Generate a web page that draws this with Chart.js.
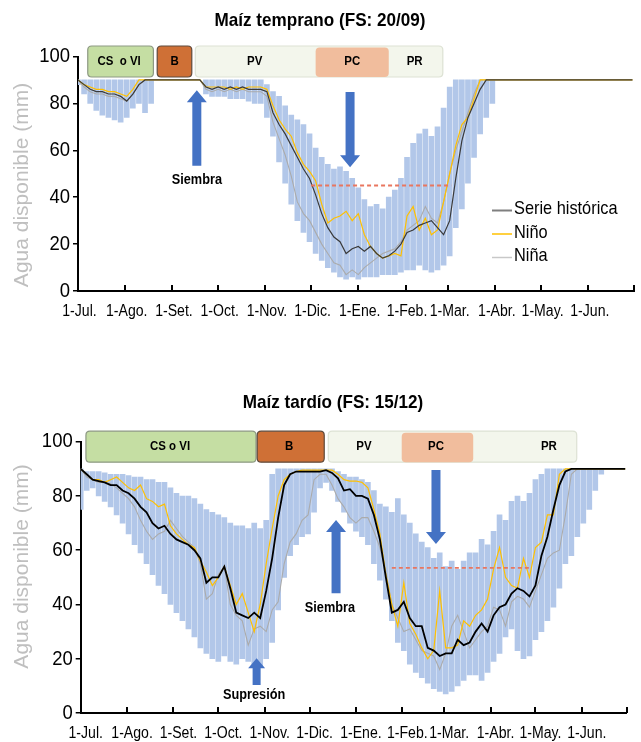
<!DOCTYPE html>
<html><head><meta charset="utf-8">
<script src="https://cdn.jsdelivr.net/npm/chart.js@4.4.1/dist/chart.umd.min.js"></script>
<style>
html,body{margin:0;padding:0;background:#fff;}
#wrap{position:relative;width:641px;height:742px;overflow:hidden;}
.box{position:absolute;left:0;width:641px;height:371px;}
</style></head><body>
<div id="wrap">
<div class="box" style="top:0"><canvas id="c1" width="641" height="371"></canvas></div>
<div class="box" style="top:371px"><canvas id="c2" width="641" height="371"></canvas></div>
</div>
<script>
// ---------- DATA ----------
const days = [0,4,8,12,16,20,24,28,32,36, 40,44,48,52,56,60,64,68,72,76,
  80,84,88,92,96,100,104,108,112,116, 120,124,128,132,136,140,144,148,152,156,
  160,164,168,172,176,180,184,188,192,196, 200,204,208,212,216,220,224,228,232,236,
  240,244,248,252,256,260,264,268,272,276, 280,284,288,292,296,300,304,308,312,316,
  320,324,328,332,336,340,344,348,352,356, 360,364];
const monthDays = [0,31,62,92,123,153,184,215,243,274,304,335,365];
const monthLabels = ['1-Jul.','1-Ago.','1-Set.','1-Oct.','1-Nov.','1-Dic.','1-Ene.','1-Feb.','1-Mar.','1-Abr.','1-May.','1-Jun.',''];
const yTicks = [0,20,40,60,80,100];
const seriesNames = ['Serie histórica','Niño','Niña'];

// Maíz temprano
const T_hist = [90,88,86,85,85,84,84,83,81,84, 88,90,90,90,90,90,90,90,90,90,
  90,87,86,87,86,87,86,87,86,86, 86,85,76,71,67,62,57,52,48,41,
  33,27,23,21,16,18,19,17,19,16, 14,15,17,20,25,26,28,29,30,27,
  24,30,48,64,74,80,86,90,90,90, 90,90,90,90,90,90,90,90,90,90,
  90,90,90,90,90,90,90,90,90,90, 90,90];
const T_nino = [90,88,87,86,86,85,85,84,83,86, 90,90,90,90,90,90,90,90,90,90,
  90,87,87,87,87,86,87,86,87,87, 87,86,79,73,69,66,59,54,51,47,
  37,29,31,32,34,30,33,24,19,16, 14,15,16,15,32,36,26,31,24,26,
  38,50,62,71,74,82,90,90,90,90, 90,90,90,90,90,90,90,90,90,90,
  90,90,90,90,90,90,90,90,90,90, 90,90];
const T_nina = [90,87,85,84,84,83,83,82,81,84, 88,90,90,90,90,90,90,90,90,90,
  90,86,85,86,85,86,85,86,85,85, 85,83,72,65,58,49,38,33,30,25,
  20,16,12,11,7,9,7,10,12,14, 16,17,18,21,26,28,30,36,31,29,
  38,50,60,68,76,84,90,90,90,90, 90,90,90,90,90,90,90,90,90,90,
  90,90,90,90,90,90,90,90,90,90, 90,90];
const T_lo = [88,84,80,77,75,74,73,72,74,78, 80,76,80,90,90,90,90,90,90,90,
  90,84,83,83,83,82,82,82,81,80, 80,74,66,55,46,37,30,25,21,16,
  13,10,8,6,5,6,5,6,6,6, 7,7,7,8,9,9,11,9,8,9,
  11,15,27,35,46,57,67,74,80,90, 90,90,90,90,90,90,90,90,90,90,
  90,90,90,90,90,90,90,90,90,90, 90,90];
const T_hi = [90,90,90,90,90,90,90,90,90,90, 90,90,90,90,90,90,90,90,90,90,
  90,90,90,90,90,90,90,90,90,90, 90,88,85,83,79,75,73,71,67,61,
  57,54,52,53,51,48,44,39,36,37, 35,40,43,48,57,63,67,69,66,70,
  78,87,90,90,90,90,90,90,90,90, 90,90,90,90,90,90,90,90,90,90,
  90,90,90,90,90,90,90,90,90,90, 90,90];
const T_umbral = 45;
const T_umbralDays = [153,245];

// Maíz tardío
const B_hist = [90,88,86,85.5,85,84,84,82,81,79, 76,74,70,68,69,66,64,63,62,60,
  57,48,50,50,54,46,37,36,35,37, 35,45,57,72,84,88,89,89,89,89,
  89,89.5,88.5,86.5,82,82.5,80,80,79,73, 64,50,37,38,41,35,32,32,24,23,
  21,22,22,27,25,26,30,33,30,36, 39,40,44,46,45,43,47,58,65,75,
  84,89,90,90,90,90,90,90,90,90, 90,90];
const B_nino = [90,88,86,86,85,86,87,85,83,82, 84,79,78,76,77,69,66,64,62,61,
  56,52,47,50,54,47,40,44,37,30, 40,55,68,80,86,88,89,89.5,89.5,89.5,
  89.5,89.5,89.5,88,86,85.5,85.5,85,83,75, 66,51,40,32,48,33,29,24,20,23,
  45,24,24,25,34,32,36,38,42,53, 61,50,47,46,57,50,61,63,73,73,
  88,90,90,90,90,90,90,90,90,90, 90,90];
const B_nina = [90,87,86,85,85,84.5,83,81,79,76, 71,67,64,66,67,71,68,65,63,61,
  55,42,44,51,54,40,36,34,25,31, 32,30,38,41,55,63,66,71,73,86,
  88,88,84,79,76,72,70,72,72,67, 61,52,40,35,30,31,27,23,22,21,
  16,22,32,36,30,24,27,30,32,39, 38,32,41,43,42,39,45,51,57,59,
  60,73,88,90,90,90,90,90,90,90, 90,90];
const B_lo = [75,82,83,80,78,76,73,70,66,62, 59,55,51,47,44,40,37,34,31,28,
  24,22,20,19,21,19,18,20,19,18, 17,20,26,38,50,58,62,65,66,74,
  83,85,82,78,74,70,67,65,62,55, 49,42,34,26,23,18,15,13,11,9,
  8,7,8,10,12,14,14,12,15,19, 22,28,31,23,20,21,27,30,34,39,
  46,55,58,65,70,75,82,88,90,90, 90,90];
const B_hi = [90,89,89,89,88.5,88,88,88,87.5,87, 87,86,86,85,85,83,81,80,80,79,
  77,75,74,73,72,70,69,69,68,70, 68,71,88,90,90,90,90,90,90,90,
  90,90,90,89,88,87,87,86,85,82, 77,76,74,79,73,70,66,63,61,57,
  59,54,56,53,56,59,59,64,62,67, 73,71,78,80,78,81,86,88,90,90,
  90,90,90,90,90,90,90,90,90,90, 90,90];
const B_umbral = 53.5;
const B_umbralDays = [208,301];

// phases (days)
const T_phaseNames = ['CS  o VI','B','PV','PC','PR'];
const T_phaseStart = [6.4,52,77,156,204];
const T_phaseEnd = [49.5,74.7,156,204,239.5];
const T_phaseLabelAt = [27,63.4,116,180,221];
const B_phaseNames = ['CS o VI','B','PV','PC','PR'];
const B_phaseStart = [3.5,118,165.5,214.6,262.4];
const B_phaseEnd = [117.2,162.8,214.6,262.4,331.6];
const B_phaseLabelAt = [59.7,139.4,189.4,237.5,313];

// ---------- DRAW ----------
const SANS = "'Liberation Sans',Arial,Helvetica,sans-serif";

function txt(ctx,s,x,y,size,weight,sx,align,color){
  ctx.save();ctx.translate(x,y);ctx.scale(sx,1);
  ctx.font=weight+' '+size+'px '+SANS;ctx.textAlign=align;ctx.textBaseline='middle';ctx.fillStyle=color;
  ctx.fillText(s,0,0);ctx.restore();
}
function rr(ctx,x,y,w,h,r){ctx.beginPath();ctx.moveTo(x+r,y);ctx.lineTo(x+w-r,y);ctx.quadraticCurveTo(x+w,y,x+w,y+r);
  ctx.lineTo(x+w,y+h-r);ctx.quadraticCurveTo(x+w,y+h,x+w-r,y+h);ctx.lineTo(x+r,y+h);ctx.quadraticCurveTo(x,y+h,x,y+h-r);
  ctx.lineTo(x,y+r);ctx.quadraticCurveTo(x,y,x+r,y);ctx.closePath();}
function arrow(ctx,x,yTail,yTip,shaft,head,hl){
  const dir = yTip<yTail?-1:1; const yb = yTip-dir*hl;
  ctx.fillStyle='#4472c4';ctx.beginPath();
  ctx.moveTo(x-shaft/2,yTail);ctx.lineTo(x-shaft/2,yb);ctx.lineTo(x-head/2,yb);ctx.lineTo(x,yTip);
  ctx.lineTo(x+head/2,yb);ctx.lineTo(x+shaft/2,yb);ctx.lineTo(x+shaft/2,yTail);ctx.closePath();ctx.fill();
}
function makeDeco(cfg){
  return {id:'deco',
    afterDraw(chart){
      const ctx=chart.ctx, xs=chart.scales.x, ys=chart.scales.y, ca=chart.chartArea;
      ctx.save();
      // inner x ticks
      ctx.strokeStyle='#000';ctx.lineWidth=2;
      monthDays.forEach(d=>{const x=Math.round(xs.getPixelForValue(d));ctx.beginPath();ctx.moveTo(x,ca.bottom);ctx.lineTo(x,ca.bottom-6);ctx.stroke();});
      // tick labels
      monthDays.forEach((d,i)=>txt(ctx,monthLabels[i],xs.getPixelForValue(d)+cfg.labelShift,ca.bottom+21,16,'normal',0.88,'center','#000'));
      yTicks.forEach(v=>txt(ctx,String(v),ca.left-8,ys.getPixelForValue(v),21,'normal',0.88,'right','#000'));
      // arrows
      cfg.arrows.forEach(a=>arrow(ctx,xs.getPixelForValue(a[0]),ys.getPixelForValue(a[1]),ys.getPixelForValue(a[2]),a[3],a[4],a[5]));
      // notes
      cfg.notes.forEach(n=>txt(ctx,n[0],xs.getPixelForValue(n[1]),ys.getPixelForValue(n[2]),15,'bold',0.85,'center','#000'));
      // phases
      const top=ca.top-10.5, h=31;
      const px=d=>xs.getPixelForValue(d);
      const N=cfg.names,S=cfg.start,E=cfg.end,L=cfg.labelAt;
      rr(ctx,px(S[2]),top,px(E[4])-px(S[2]),h,4);ctx.fillStyle='#f3f6ec';ctx.fill();ctx.strokeStyle='#dde2d4';ctx.lineWidth=1.2;ctx.stroke();
      rr(ctx,px(S[3]),top+1.5,px(E[3])-px(S[3]),h-1.5,4);ctx.fillStyle='#f1bd9d';ctx.fill();
      rr(ctx,px(S[0]),top,px(E[0])-px(S[0]),h,4);ctx.fillStyle='#c5dea3';ctx.fill();ctx.strokeStyle='#8d9983';ctx.lineWidth=1.2;ctx.stroke();
      rr(ctx,px(S[1]),top,px(E[1])-px(S[1]),h,4);ctx.fillStyle='#cf7036';ctx.fill();ctx.strokeStyle='#5e4a3c';ctx.lineWidth=1.2;ctx.stroke();
      N.forEach((t,i)=>txt(ctx,t,px(L[i]),top+h/2,13.5,'bold',0.85,'center','#000'));
      // chart title
      txt(ctx,cfg.title,cfg.titleX,cfg.titleY,19,'bold',0.9,'center','#000');
      // y title
      ctx.save();ctx.translate(22,cfg.yTitleY);ctx.rotate(-Math.PI/2);
      ctx.fillStyle='#bfbfbf';ctx.font="21px "+SANS;ctx.textAlign='center';ctx.textBaseline='middle';
      ctx.fillText('Agua disponible (mm)',0,0);ctx.restore();
      // legend
      if(cfg.legend){
        const cols=['#7f7f7f','#ffc000','#c8c8c8'];
        seriesNames.forEach((nm,i)=>{
          const y=209+i*23.5;
          ctx.strokeStyle=cols[i];ctx.lineWidth=(i===0)?2:1.5;
          ctx.beginPath();ctx.moveTo(492,y+1.5);ctx.lineTo(512,y+1.5);ctx.stroke();
          txt(ctx,nm,514,y,19,'normal',0.86,'left','#000');
        });
      }
      ctx.restore();
    }};
}
function build(id,cfg){
  const pts=arr=>days.map((d,i)=>({x:d,y:arr[i]}));
  const ranges=days.map((d,i)=>({x:d,y:(cfg.lo[i]<cfg.hi[i])?[cfg.lo[i],cfg.hi[i]]:null}));
  const datasets=[
    {type:'line',label:seriesNames[0],data:pts(cfg.hist),borderColor:cfg.histColor,borderWidth:cfg.histWidth,pointRadius:0,tension:0,order:1},
    {type:'line',label:seriesNames[1],data:pts(cfg.nino),borderColor:'#ffc000',borderWidth:1.2,pointRadius:0,tension:0,order:2},
    {type:'line',label:seriesNames[2],data:pts(cfg.nina),borderColor:'#ababab',borderWidth:1.1,pointRadius:0,tension:0,order:3},
    {type:'line',label:'Umbral',data:cfg.umbralDays.map(d=>({x:d,y:cfg.umbral})),borderColor:'#e9765f',borderWidth:1.8,borderDash:[4,3],pointRadius:0,order:0},
    {type:'bar',label:'Rango',data:ranges,backgroundColor:'rgb(178,199,233)',borderWidth:0,barThickness:cfg.barW,grouped:false,order:10}
  ];
  new Chart(document.getElementById(id),{
    type:'bar',
    data:{datasets},
    options:{
      responsive:false,animation:false,devicePixelRatio:1,
      layout:{padding:{top:cfg.padTop,right:cfg.padRight,left:0,bottom:0}},
      plugins:{legend:{display:false},tooltip:{enabled:false},title:{display:false}},
      scales:{
        x:{type:'linear',min:0,max:365,offset:false,
          afterBuildTicks:s=>{s.ticks=monthDays.map(v=>({value:v}));},
          afterFit:s=>{s.height=cfg.xH;},
          grid:{display:false,drawTicks:false,offset:false},
          border:{display:true,color:'#000',width:2},
          ticks:{display:false}},
        y:{min:0,max:100,
          afterBuildTicks:s=>{s.ticks=yTicks.map(v=>({value:v}));},
          afterFit:s=>{s.width=cfg.yW;},
          grid:{display:true,drawOnChartArea:false,drawTicks:true,tickLength:5,color:'#000',lineWidth:1.5},
          border:{display:true,color:'#000',width:2},
          ticks:{display:false}}
      }
    },
    plugins:[makeDeco(cfg.deco)]
  });
}
build('c1',{hist:T_hist,nino:T_nino,nina:T_nina,lo:T_lo,hi:T_hi,umbral:T_umbral,umbralDays:T_umbralDays,
  histColor:'#3a3a3a',histWidth:1.2,barW:5,padTop:56.5,padRight:7,xH:80,yW:78,
  deco:{names:T_phaseNames,start:T_phaseStart,end:T_phaseEnd,labelAt:T_phaseLabelAt,labelShift:1.5,
    arrows:[[78,53.4,85.6,9,20,12],[178.6,84.9,52.8,9,20,12]],
    notes:[['Siembra',78,47.5]],
    title:'Maíz temprano (FS: 20/09)',titleX:320,titleY:21,yTitleY:185,legend:true}});
build('c2',{hist:B_hist,nino:B_nino,nina:B_nina,lo:B_lo,hi:B_hi,umbral:B_umbral,umbralDays:B_umbralDays,
  histColor:'#000',histWidth:1.8,barW:5,padTop:70.7,padRight:14.3,xH:29,yW:80.7,
  deco:{names:B_phaseNames,start:B_phaseStart,end:B_phaseEnd,labelAt:B_phaseLabelAt,labelShift:5,
    arrows:[[117.6,10.3,20.2,8,17,10],[170.7,44.1,71.1,9,20,12],[237.5,89.6,62.3,9,20,12]],
    notes:[['Siembra',166.6,38.7],['Supresión',115.9,6.6]],
    title:'Maíz tardío (FS: 15/12)',titleX:333,titleY:32,yTitleY:195.5,legend:false}});
</script>
</body></html>
